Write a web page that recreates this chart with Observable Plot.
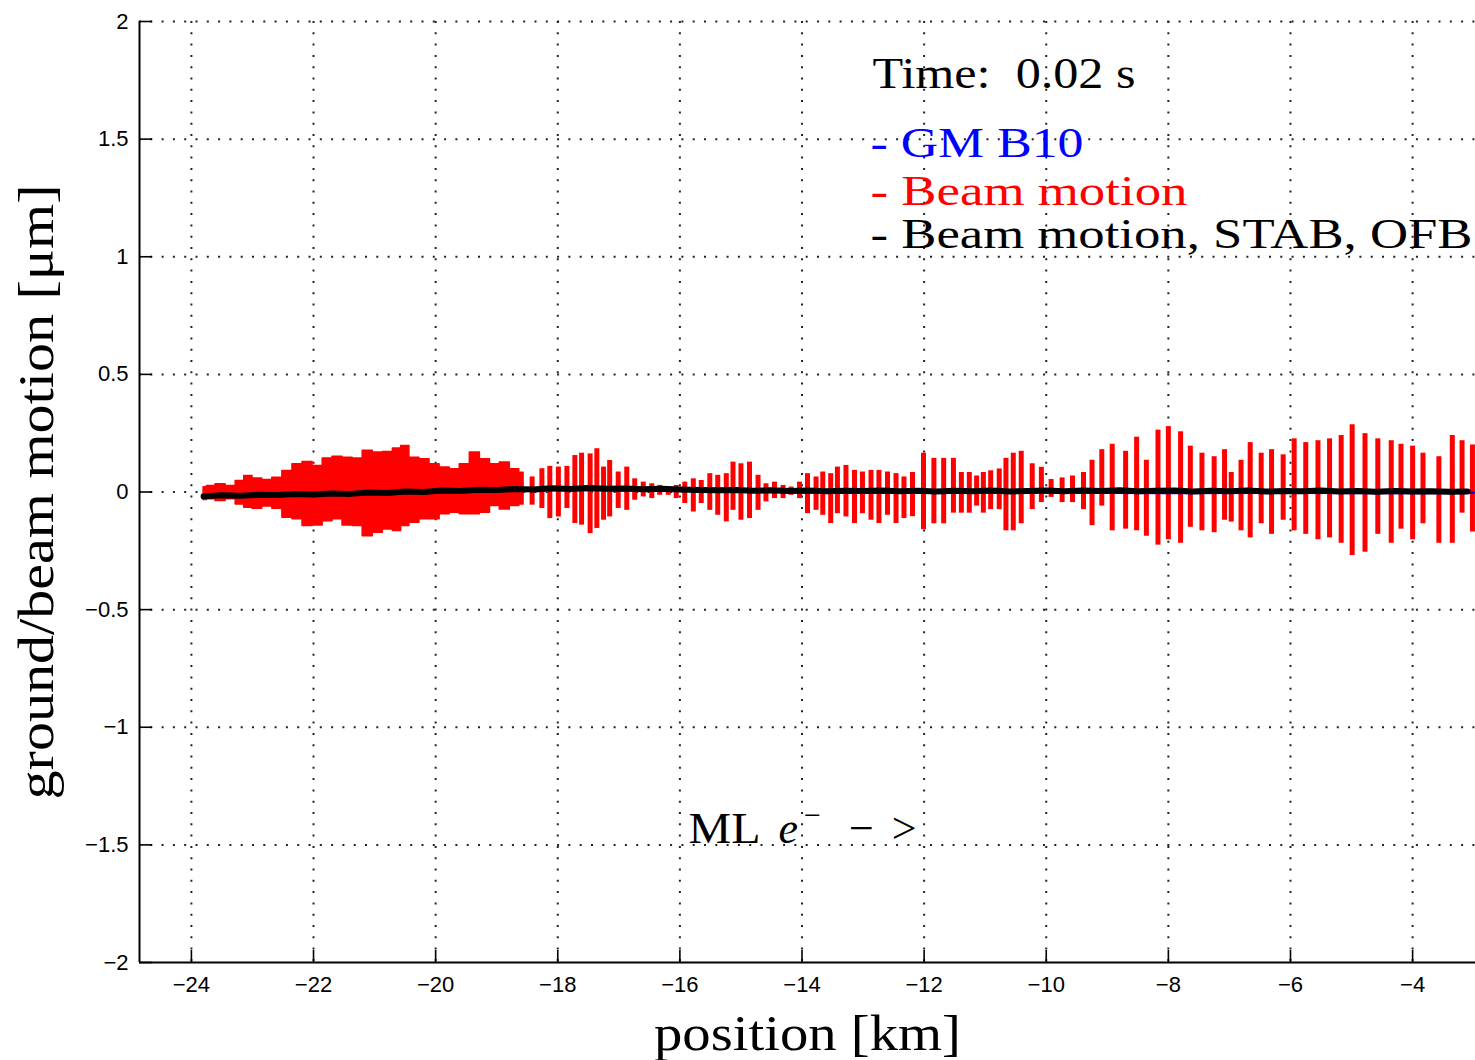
<!DOCTYPE html>
<html><head><meta charset="utf-8">
<script src="https://cdn.jsdelivr.net/npm/d3@7"></script>
<script src="https://cdn.jsdelivr.net/npm/@observablehq/plot@0.6"></script>
<style>html,body{margin:0;padding:0;background:#fff;} svg{display:block}</style>
</head><body><div id="chart"></div>
<script>
// ---- axes ----
const xTicks = [-24, -22, -20, -18, -16, -14, -12, -10, -8, -6, -4];
const yTicks = [-2, -1.5, -1, -0.5, 0, 0.5, 1, 1.5, 2];
const xDomain = [-24.85, -2.97];
const yDomain = [-2, 2];

// ---- Beam motion (red), dense part: envelope ----
const densePos = [-23.80,-23.69,-23.52,-23.36,-23.19,-23.08,-22.92,-22.76,-22.59,-22.43,-22.26,-22.10,-21.93,-21.77,-21.61,-21.44,-21.28,-21.11,-20.95,-20.78,-20.62,-20.51,-20.35,-20.18,-20.02,-19.85,-19.69,-19.52,-19.36,-19.19,-19.03,-18.87,-18.70,-18.56];
const denseHi  = [0.020,0.026,0.033,0.026,0.047,0.068,0.057,0.051,0.061,0.089,0.118,0.128,0.111,0.142,0.150,0.146,0.142,0.175,0.168,0.170,0.185,0.196,0.146,0.139,0.118,0.104,0.097,0.118,0.168,0.139,0.118,0.125,0.097,0.082];
const denseLo  = [-0.034,-0.031,-0.038,-0.031,-0.053,-0.067,-0.071,-0.062,-0.071,-0.109,-0.116,-0.145,-0.142,-0.124,-0.116,-0.142,-0.145,-0.188,-0.173,-0.159,-0.166,-0.145,-0.131,-0.116,-0.116,-0.095,-0.088,-0.095,-0.095,-0.088,-0.060,-0.074,-0.060,-0.053];

// ---- Beam motion (red), individual spikes ----
const spikePos = [-18.42,-18.26,-18.13,-17.99,-17.85,-17.72,-17.61,-17.47,-17.36,-17.25,-17.15,-17.01,-16.87,-16.74,-16.60,-16.46,-16.33,-16.19,-16.06,-15.92,-15.78,-15.65,-15.51,-15.38,-15.24,-15.13,-15.00,-14.86,-14.72,-14.59,-14.45,-14.31,-14.18,-14.04,-13.91,-13.77,-13.66,-13.53,-13.42,-13.28,-13.14,-13.01,-12.87,-12.74,-12.60,-12.46,-12.33,
  -12.19,-12.01,-11.84,-11.68,-11.52,-11.39,-11.26,-11.14,-11.03,-10.91,-10.77,-10.66,-10.54,-10.41,-10.23,-10.08,-9.92,-9.74,-9.57,-9.39,-9.25,-9.09,-8.92,-8.70,-8.52,-8.36,-8.17,-8.00,-7.80,-7.64,-7.45,-7.25,-7.08,-6.97,-6.81,-6.66,-6.48,-6.31,-6.12,-5.94,-5.75,-5.55,-5.36,-5.17,-4.99,-4.78,-4.57,-4.35,-4.19,-4.00,-3.83,-3.57,-3.35,-3.19,-3.02];
const spikeHi = [0.064,0.099,0.109,0.106,0.109,0.155,0.165,0.162,0.184,0.106,0.134,0.085,0.106,0.056,0.042,0.035,0.028,0.014,0.028,0.042,0.056,0.049,0.078,0.071,0.078,0.127,0.120,0.127,0.071,0.035,0.042,0.028,0.021,0.042,0.078,0.064,0.085,0.078,0.106,0.113,0.092,0.085,0.092,0.092,0.085,0.078,0.064,
  0.083,0.165,0.143,0.143,0.143,0.083,0.083,0.068,0.083,0.090,0.098,0.143,0.165,0.173,0.120,0.105,0.053,0.060,0.068,0.083,0.135,0.180,0.203,0.173,0.233,0.135,0.263,0.278,0.256,0.195,0.165,0.150,0.180,0.083,0.135,0.210,0.165,0.180,0.158,0.226,0.210,0.218,0.226,0.240,0.286,0.248,0.226,0.218,0.203,0.195,0.165,0.150,0.240,0.218,0.200];
const spikeLo = [-0.056,-0.070,-0.113,-0.106,-0.070,-0.134,-0.141,-0.177,-0.155,-0.120,-0.106,-0.070,-0.078,-0.035,-0.021,-0.028,-0.014,-0.014,-0.028,-0.049,-0.085,-0.049,-0.078,-0.099,-0.127,-0.078,-0.120,-0.113,-0.078,-0.042,-0.028,-0.028,-0.014,-0.028,-0.092,-0.078,-0.099,-0.134,-0.092,-0.106,-0.134,-0.092,-0.120,-0.134,-0.099,-0.134,-0.113,
  -0.105,-0.160,-0.135,-0.135,-0.090,-0.090,-0.090,-0.060,-0.090,-0.075,-0.075,-0.165,-0.165,-0.135,-0.075,-0.045,-0.023,-0.045,-0.045,-0.075,-0.143,-0.060,-0.165,-0.158,-0.165,-0.188,-0.226,-0.203,-0.218,-0.150,-0.165,-0.173,-0.120,-0.128,-0.165,-0.195,-0.135,-0.180,-0.120,-0.165,-0.180,-0.203,-0.195,-0.218,-0.270,-0.256,-0.180,-0.218,-0.158,-0.203,-0.135,-0.218,-0.218,-0.090,-0.170];

// ---- Beam motion, STAB, OFB (black) ----
const stabPos = [-23.80,-23.50,-23.20,-22.90,-22.60,-22.30,-22.00,-21.70,-21.40,-21.10,-20.80,-20.50,-20.20,-19.90,-19.60,-19.30,-19.00,-18.70,-18.40,-18.10,-17.80,-17.50,-17.20,-16.90,-16.60,-16.30,-16.00,-15.70,-15.40,-15.10,-14.80,-14.50,-14.20,-13.90,-13.60,-13.30,-13.00,-12.70,-12.40,-12.10,-11.80,-11.50,-11.20,-10.90,-10.60,-10.30,-10.00,-9.70,-9.40,-9.10,-8.80,-8.50,-8.20,-7.90,-7.60,-7.30,-7.00,-6.70,-6.40,-6.10,-5.80,-5.50,-5.20,-4.90,-4.60,-4.30,-4.00,-3.70,-3.40,-3.10];
const stabVal = [-0.018,-0.014,-0.016,-0.012,-0.013,-0.009,-0.011,-0.006,-0.008,-0.002,-0.004,0.002,0.000,0.006,0.004,0.010,0.008,0.013,0.011,0.016,0.013,0.017,0.014,0.015,0.012,0.014,0.011,0.009,0.007,0.008,0.005,0.007,0.004,0.006,0.003,0.005,0.004,0.006,0.003,0.005,0.002,0.005,0.003,0.006,0.002,0.004,0.006,0.003,0.006,0.004,0.007,0.003,0.005,0.006,0.002,0.005,0.003,0.006,0.002,0.004,0.003,0.006,0.002,0.004,0.001,0.004,0.002,0.003,0.001,0.002];

// ---- GM B10 (blue) ----
const gmPos = [-23.80,-21.00,-18.00,-16.00,-14.00,-12.00,-10.00,-8.00,-6.00,-4.00,-3.00];
const gmVal = [-0.020,-0.006,0.010,0.006,-0.002,-0.003,-0.002,-0.004,-0.003,-0.004,-0.003];

// ---- texts ----
const xLabel = "position [km]";
const yLabel = "ground/beam motion [μm]";
const timeText = "Time:  0.02 s";
const legendText = ["- GM B10", "- Beam motion", "- Beam motion, STAB, OFB"];
const legendColor = ["blue", "red", "black"];
const noteText = "ML e⁻ − >";

const dense = densePos.map((x, i) => ({x, hi: denseHi[i], lo: denseLo[i]}));
const spikes = spikePos.map((x, i) => ({x, hi: spikeHi[i], lo: spikeLo[i]}));
const stab = stabPos.map((x, i) => ({x, y: stabVal[i]}));
const gm = gmPos.map((x, i) => ({x, y: gmVal[i]}));

const W = 1475, H = 1060, mL = 139, mR = 0, mT = 21, mB = 98;
const frameW = W - mL - mR, frameH = H - mT - mB;
const serif = "'Liberation Serif', 'DejaVu Serif', serif";
const gridStyle = {stroke: "#222", strokeOpacity: 1, strokeWidth: 2, strokeDasharray: "2,9.3"};
const fmt = d => (d < 0 ? "\u2212" : "") + String(Math.abs(d));

const legendMarks = legendText.map((t, i) =>
  Plot.text([t], {frameAnchor: "top-left", textAnchor: "start", lineAnchor: "middle",
    dx: 731, dy: [122, 170, 213][i], fontSize: 43, fontFamily: serif, fill: legendColor[i]}));

const plot = Plot.plot({
  width: W, height: H,
  marginLeft: mL, marginRight: mR, marginTop: mT, marginBottom: mB,
  style: {background: "white", fontFamily: "'Liberation Sans', Arial, sans-serif", color: "black"},
  x: {domain: xDomain, ticks: xTicks},
  y: {domain: yDomain, ticks: yTicks},
  marks: [
    Plot.gridX(xTicks, gridStyle),
    Plot.gridY(yTicks.filter(d => d > yDomain[0]), gridStyle),
    Plot.areaY(dense, {x: "x", y1: "lo", y2: "hi", curve: "step", fill: "red", stroke: "red", strokeWidth: 1.5}),
    Plot.ruleX(spikes, {x: "x", y1: "lo", y2: "hi", stroke: "red", strokeWidth: 5}),
    Plot.line(gm, {x: "x", y: "y", stroke: "blue", strokeWidth: 2.5}),
    Plot.line(stab, {x: "x", y: "y", stroke: "black", strokeWidth: 6}),
    // inward ticks
    Plot.tickX(xTicks, {stroke: "black", strokeWidth: 1.6, insetTop: frameH - 12}),
    Plot.tickY(yTicks, {stroke: "black", strokeWidth: 1.6, insetRight: frameW - 13}),
    // axis lines
    Plot.ruleY([yDomain[0]], {stroke: "black", strokeWidth: 2}),
    Plot.ruleX([xDomain[0]], {stroke: "black", strokeWidth: 2}),
    Plot.axisX(xTicks, {tickSize: 0, tickPadding: 14, fontSize: 22, label: null, tickFormat: fmt}),
    Plot.axisY(yTicks, {tickSize: 0, tickPadding: 11, fontSize: 22, label: null, tickFormat: fmt}),
    Plot.text([xLabel], {frameAnchor: "bottom", textAnchor: "middle", lineAnchor: "middle", dy: 71, fontSize: 50, fontFamily: serif}),
    Plot.text([yLabel], {frameAnchor: "left", textAnchor: "middle", lineAnchor: "middle", rotate: -90, dx: -103, fontSize: 50, fontFamily: serif}),
    Plot.text([timeText], {frameAnchor: "top-left", textAnchor: "start", lineAnchor: "middle", dx: 733, dy: 52, fontSize: 44, fontFamily: serif}),
    ...legendMarks,
    Plot.text([noteText], {frameAnchor: "top-left", textAnchor: "start", lineAnchor: "middle", dx: 549, dy: 807, fontSize: 44, fontFamily: serif})
  ]
});

// stretch the serif texts to the widths they have in the picture
const widths = {};
widths[xLabel] = 307; widths[yLabel] = 615; widths[timeText] = 263;
widths[legendText[0]] = 213; widths[legendText[1]] = 317; widths[legendText[2]] = 602;
d3.select(plot).selectAll("text").each(function() {
  const txt = this.textContent;
  const w = widths[txt];
  if (w) { this.setAttribute("textLength", w); this.setAttribute("lengthAdjust", "spacingAndGlyphs"); }
  if (txt === noteText) {
    // italic e with a superscript minus, as in the picture
    const t = d3.select(this);
    t.text(null);
    t.append("tspan").attr("textLength", 72).attr("lengthAdjust", "spacingAndGlyphs").text("ML");
    t.append("tspan").attr("dx", 18).attr("font-style", "italic").text("e");
    t.append("tspan").attr("dx", 6).attr("dy", -18).attr("font-size", 30).text("\u2212");
    t.append("tspan").attr("dx", 28).attr("dy", 18).text("\u2212");
    t.append("tspan").attr("dx", 18).text(">");
  }
});
document.getElementById("chart").appendChild(plot);
</script>
</body></html>
